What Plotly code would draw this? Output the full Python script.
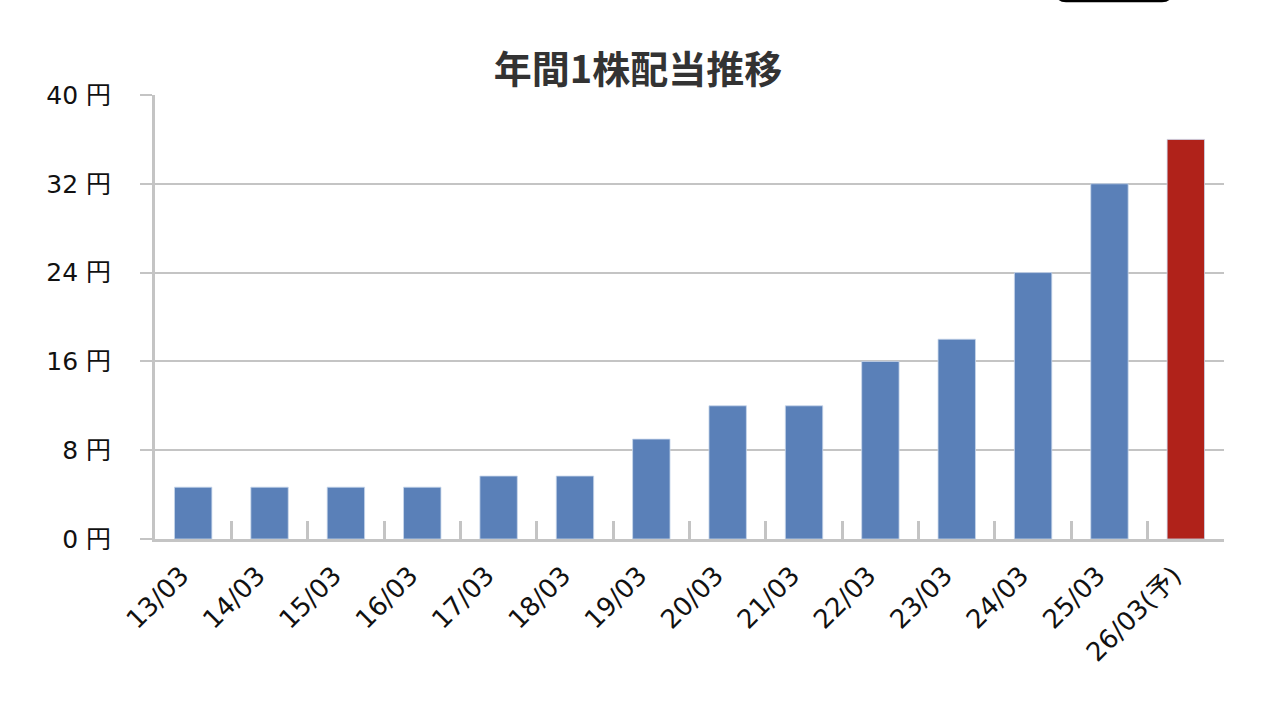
import plotly.graph_objects as go

categories = ["13/03", "14/03", "15/03", "16/03", "17/03", "18/03", "19/03",
              "20/03", "21/03", "22/03", "23/03", "24/03", "25/03", "26/03(予)"]
dividends = [4.67, 4.67, 4.67, 4.67, 5.67, 5.67, 9, 12, 12, 16, 18, 24, 32, 36]
forecast_flags = [False] * 13 + [True]
y_ticks = [0, 8, 16, 24, 32, 40]
y_tick_labels = ["0 円", "8 円", "16 円", "24 円", "32 円", "40 円"]
title_text = "年間1株配当推移"

BLUE = "#5a80b8"
RED = "#b0221a"
GRID = "#c4c4c4"
FONT = "Noto Sans CJK JP, Noto Sans, sans-serif"
TICKFONT = "DejaVu Sans, Noto Sans CJK JP, sans-serif"

colors = [RED if f else BLUE for f in forecast_flags]

W, H = 1276, 718
L, R, T, B = 155, 52, 95, 179
pw, ph = W - L - R, H - T - B

fig = go.Figure()
fig.add_trace(go.Bar(
    x=categories, y=dividends,
    marker=dict(color=colors, line=dict(color="rgba(200,215,235,0.8)", width=1)),
    hoverinfo="x+y",
))

fig.update_layout(
    width=W, height=H,
    paper_bgcolor="white", plot_bgcolor="white",
    margin=dict(l=L, r=R, t=T, b=B),
    bargap=0.51,
    showlegend=False,
    font=dict(family=FONT, color="#111111", size=24),
    title=dict(text="<b>" + title_text + "</b>", x=0.5, xanchor="center",
               y=1 - 70 / H, yanchor="middle",
               font=dict(family=FONT, size=38, color="#333333")),
    xaxis=dict(
        type="category",
        showline=True, linecolor=GRID, linewidth=3,
        ticks="inside", tickson="boundaries", ticklen=18, tickwidth=3, tickcolor=GRID,
        tickangle=-45, showgrid=False,
        tickfont=dict(family=TICKFONT, size=26, color="#111111"),
        ticklabelstandoff=8, ticklabelshift=-12,
    ),
    yaxis=dict(
        range=[0, 40], tickmode="array", tickvals=y_ticks, ticktext=y_tick_labels,
        showline=True, linecolor=GRID, linewidth=3,
        ticks="outside", ticklen=12, tickwidth=2, tickcolor=GRID,
        showgrid=True, gridcolor=GRID, gridwidth=2,
        zeroline=False,
        tickfont=dict(family=TICKFONT, size=25, color="#111111"),
        ticklabelstandoff=24,
    ),
)

# partial rounded button outline at the very top edge of the page
def px(x):
    return (x - L) / pw

def py(y):
    return (H - B - y) / ph

x0, x1, ybot, r = 1057, 1171, 1, 9
fig.add_shape(
    type="path", xref="paper", yref="paper",
    path="M %f %f L %f %f Q %f %f %f %f L %f %f Q %f %f %f %f L %f %f" % (
        px(x0), py(-20),
        px(x0), py(ybot - r),
        px(x0), py(ybot), px(x0 + r), py(ybot),
        px(x1 - r), py(ybot),
        px(x1), py(ybot), px(x1), py(ybot - r),
        px(x1), py(-20),
    ),
    line=dict(color="black", width=2.5),
)

fig.write_html(
    "out.html",
    config={"displayModeBar": False},
    post_script="document.body.style.margin='0';document.body.style.overflow='hidden';",
)
